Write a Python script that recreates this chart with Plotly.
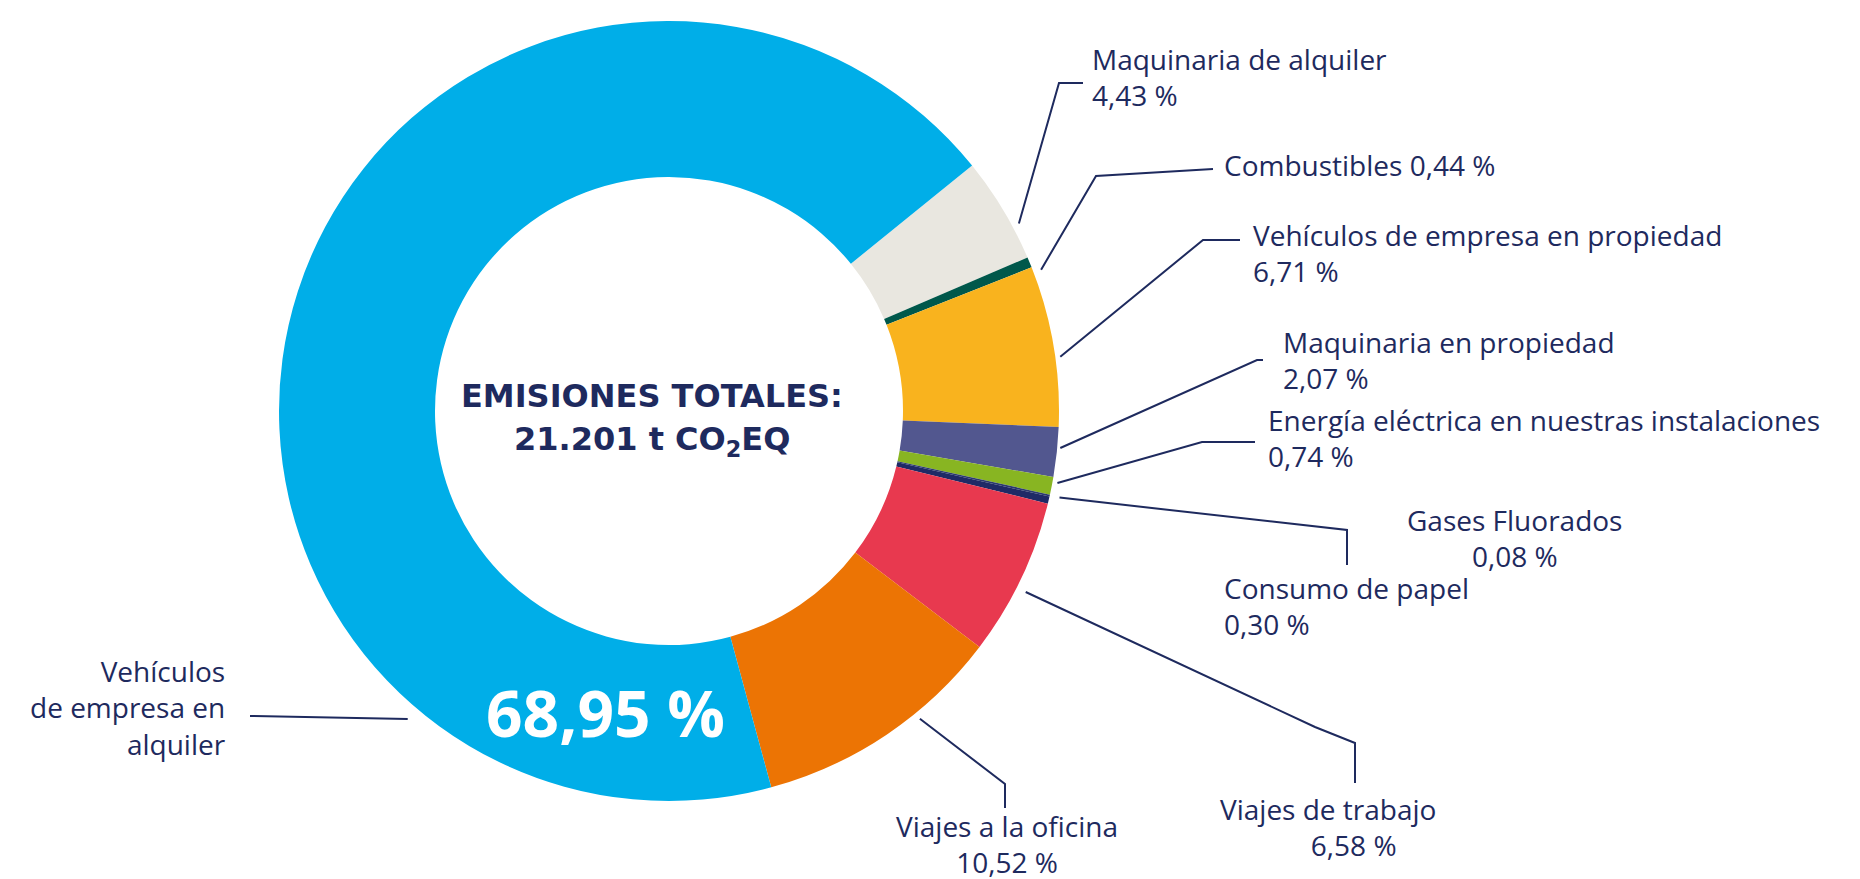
import math
import plotly.graph_objects as go

# emisiones por fuente (% del total)
categorias = [
    "Maquinaria de alquiler",
    "Combustibles",
    "Vehículos de empresa en propiedad",
    "Maquinaria en propiedad",
    "Energía eléctrica en nuestras instalaciones",
    "Gases Fluorados",
    "Consumo de papel",
    "Viajes de trabajo",
    "Viajes a la oficina",
    "Vehículos de empresa en alquiler",
]
porcentajes = [4.43, 0.44, 6.71, 2.07, 0.74, 0.08, 0.30, 6.58, 10.52, 68.95]
etiquetas_pct = ["4,43 %", "0,44 %", "6,71 %", "2,07 %", "0,74 %", "0,08 %",
                 "0,30 %", "6,58 %", "10,52 %", "68,95 %"]
colores = ["#E9E7E0", "#00584B", "#F9B31E", "#52578F", "#88B522", "#2B3A6E",
           "#1F2A66", "#E8394F", "#EC7404", "#00AEE8"]

W, H = 1860, 879
OFF = 8          # page body margin: layout below is given in page pixels
CX, CY, R = 669, 411, 390
NAVY = "#1E2A5E"
FONT = "Open Sans"
FS = 28

fig = go.Figure()
fig.add_trace(go.Pie(
    labels=categorias,
    values=porcentajes,
    sort=False,
    direction="clockwise",
    rotation=51,
    hole=0.6,
    marker=dict(colors=colores, line=dict(width=0)),
    textinfo="none",
    hovertemplate="%{label}<extra></extra>",
    showlegend=False,
    domain=dict(x=[(CX - R - OFF) / W, (CX + R - OFF) / W],
                y=[1 - (CY + R - OFF) / H, 1 - (CY - R - OFF) / H]),
))


def polar(ang, r):
    a = math.radians(ang)
    return CX + r * math.sin(a), CY - r * math.cos(a)


# leader lines: anchor (angle, radius) on the ring, then elbow points
guias = [
    ((61.8, 397), [(1059, 83), (1083, 83)]),
    ((69.2, 398), [(1096, 176), (1213, 169)]),
    ((82.1, 395), [(1203, 240), (1240, 240)]),
    ((95.4, 393), [(1257, 360), (1263, 360)]),
    ((100.5, 395), [(1202, 442), (1255, 442)]),
    ((102.5, 400), [(1347, 530), (1347, 565)]),
    ((116.9, 400), [(1315, 727), (1355, 743), (1355, 783)]),
    ((140.8, 397), [(1005, 784), (1005, 808)]),
    ((220.3, 404), [(250, 716)]),
]
shapes = []
for (ang, r), pts in guias:
    x0, y0 = polar(ang, r)
    path = f"M {x0:.1f},{y0:.1f} " + " ".join(f"L {x},{y}" for x, y in pts)
    shapes.append(dict(type="path", path=path, xref="x", yref="y",
                       line=dict(color=NAVY, width=2)))

NB = "\u00a0"
# text blocks: (text, x, mean baseline of its lines, xanchor)
bloques = [
    (f"{categorias[0]}<br>{etiquetas_pct[0]}", 1090, 86, "left"),
    (f"{categorias[1]} {etiquetas_pct[1]}", 1222, 174, "left"),
    (f"{categorias[2]}<br>{etiquetas_pct[2]}", 1251, 262, "left"),
    (f"{categorias[3]}<br>{etiquetas_pct[3]}", 1281, 369.5, "left"),
    (f"{categorias[4]}<br>{etiquetas_pct[4]}", 1266, 447.5, "left"),
    (f"{categorias[5]}<br>{etiquetas_pct[5]}", 1514, 547, "center"),
    (f"{categorias[6]}<br>{etiquetas_pct[6]}", 1222, 615.5, "left"),
    (f"{categorias[7]}<br>{NB * 7}{etiquetas_pct[7]}", 1328, 836, "center"),
    (f"{categorias[8]}<br>{etiquetas_pct[8]}", 1007, 853, "center"),
    ("Vehículos<br>de empresa en<br>alquiler", 228, 717, "right"),
]


def texto(txt, x, base, xa, size, color=NAVY, family=FONT, weight=400):
    return dict(text=txt, x=x, y=base - 0.33 * size, xref="x", yref="y",
                xanchor=xa, yanchor="middle", align=xa if xa != "center" else "center",
                showarrow=False,
                font=dict(family=family, size=size, color=color, weight=weight))


annotations = [texto(t, x, b, xa, FS) for t, x, b, xa in bloques]
annotations.append(texto("EMISIONES TOTALES:", 652, 407, "center", 32,
                         family="DejaVu Sans", weight=700))
annotations.append(texto("21.201 t CO<sub>2</sub>EQ", 652, 452, "center", 32,
                         family="DejaVu Sans", weight=700))
annotations.append(texto(etiquetas_pct[9], 605, 734, "center", 64,
                         color="white", weight=700))

fig.update_layout(
    width=W, height=H,
    margin=dict(l=0, r=0, t=0, b=0),
    paper_bgcolor="white", plot_bgcolor="white",
    xaxis=dict(range=[OFF, W + OFF], visible=False, fixedrange=True),
    yaxis=dict(range=[H + OFF, OFF], visible=False, fixedrange=True),
    shapes=shapes,
    annotations=annotations,
)

fig.write_html("out.html")
